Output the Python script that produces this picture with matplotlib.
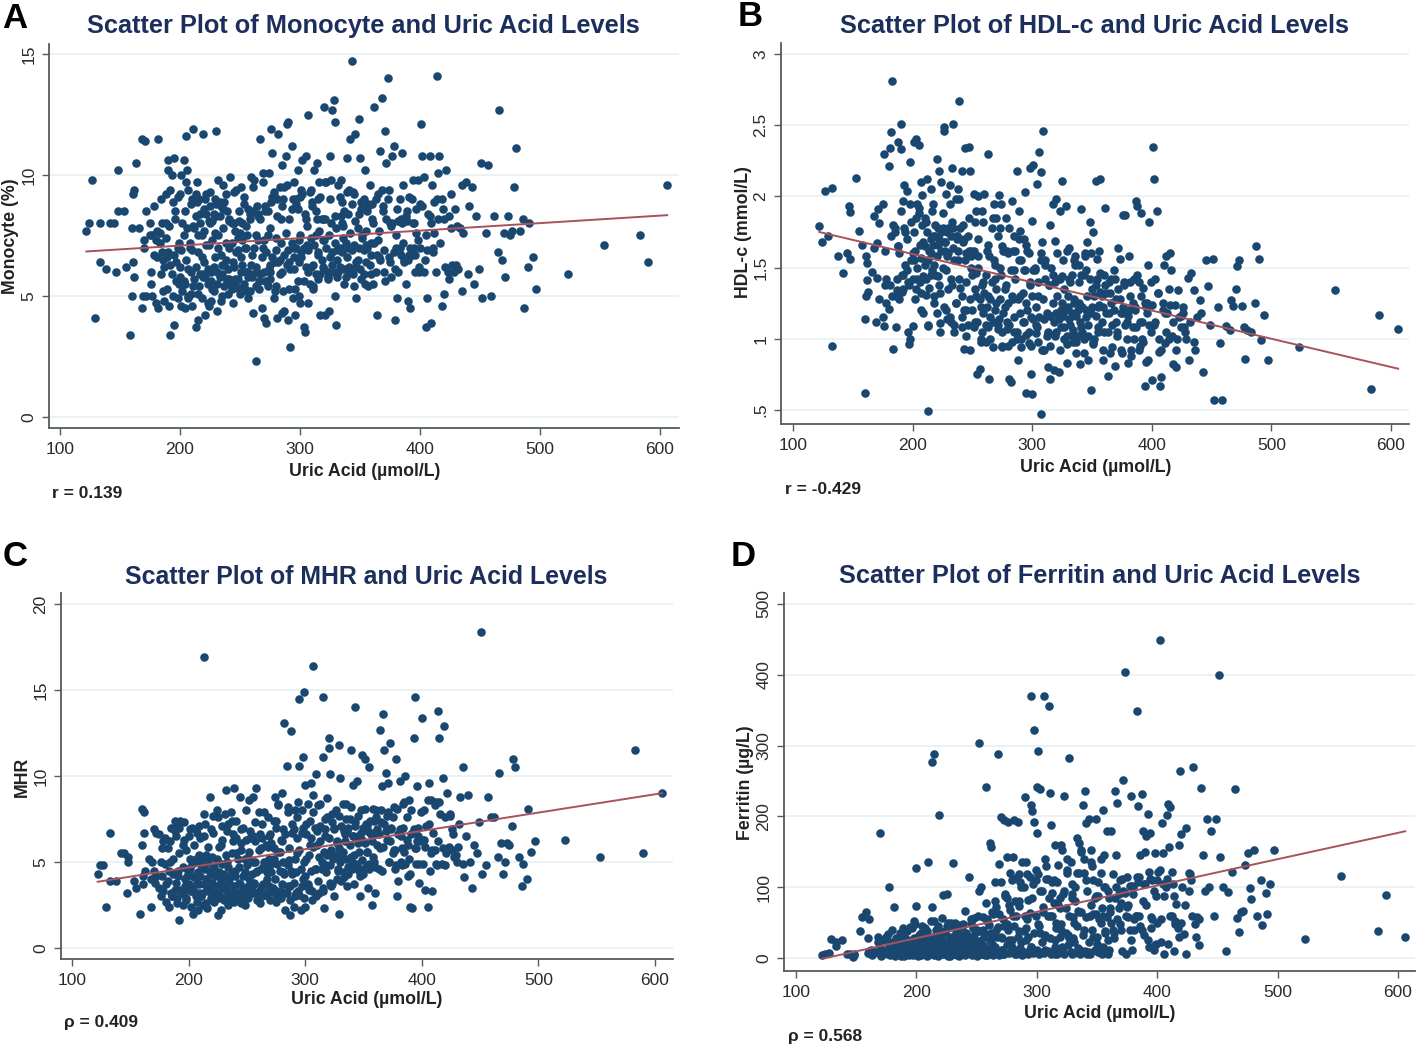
import matplotlib
matplotlib.use("Agg")
from matplotlib import pyplot as plt

plt.rcParams['font.family'] = ['Liberation Sans', 'DejaVu Sans']

# values, same participants (x) in all four panels
uric_acid = [
    122,124,127,129,133,133,138,142,145,147,
    148,148,153,155,158,160,160,161,161,162,
    162,163,166,168,168,169,170,170,171,172,
    172,175,175,176,176,177,177,178,178,180,
    180,181,182,182,183,184,185,186,187,188,
    188,189,190,190,191,192,192,193,194,195,
    195,196,197,198,198,199,200,200,201,202,
    203,204,204,205,206,207,207,208,209,210,
    210,211,212,213,213,214,215,215,216,217,
    218,218,219,220,220,221,222,222,223,224,
    224,225,226,226,227,228,228,229,230,230,
    231,232,232,233,234,234,235,236,236,237,
    238,238,239,240,241,241,242,243,244,245,
    245,246,247,248,248,249,250,251,252,252,
    253,254,255,255,256,257,258,258,259,260,
    261,262,263,263,264,265,266,267,268,269,
    270,270,271,272,273,274,275,275,276,277,
    278,279,280,280,281,282,283,284,285,285,
    286,287,288,289,290,290,291,292,293,294,
    295,295,296,297,298,298,299,300,300,301,
    302,303,304,305,306,307,307,308,309,310,
    311,312,313,314,315,315,316,317,318,319,
    320,320,321,322,323,324,325,326,327,328,
    329,329,330,331,332,333,334,335,336,337,
    338,339,340,341,342,343,344,345,346,347,
    348,349,350,351,352,353,354,355,356,357,
    358,359,360,361,362,363,364,365,366,367,
    368,369,370,371,372,373,374,375,376,377,
    378,379,380,381,382,383,384,385,386,387,
    388,389,390,391,392,393,394,395,396,397,
    398,399,400,401,402,403,404,405,406,407,
    408,409,410,411,412,413,414,415,416,418,
    419,420,422,424,426,428,430,431,433,435,
    436,438,440,441,443,445,447,449,451,452,
    455,457,459,462,465,466,468,470,471,473,
    475,477,478,480,483,486,487,490,491,494,
    497,523,553,583,590,606,
    # dense core
    181,183,185,187,189,191,193,195,197,199,
    200,201,202,203,204,205,206,207,208,209,
    210,211,212,213,214,215,216,217,218,219,
    220,221,222,223,224,225,226,227,228,229,
    230,231,232,233,234,235,236,237,238,239,
    240,241,242,243,244,245,246,247,248,249,
    250,251,252,253,254,255,256,257,258,259,
    260,261,262,263,264,265,266,267,268,269,
    270,271,272,273,274,275,276,277,278,279,
    280,281,282,283,284,285,286,287,288,289,
    290,291,292,293,294,295,296,297,298,299,
    300,301,302,303,304,305,306,307,308,309,
    310,311,312,313,314,315,316,317,318,319,
    320,321,322,323,324,325,326,327,328,329,
    330,331,332,333,334,335,336,337,338,339,
    340,341,342,343,344,345,346,347,348,349,
    350,351,352,353,354,355,356,357,358,359,
    360,362,364,366,368,370,372,374,376,378,
    380,382,384,386,388,390,392,394,396,398,
    400,403,406,409,412,415,418,421,424,427,
    # rest of the cloud
    184,186,188,190,192,194,196,198,201,203,
    205,207,209,211,213,215,217,219,221,223,
    225,227,229,231,233,235,237,239,241,243,
    245,247,249,251,253,255,257,259,261,263,
    265,267,269,271,273,275,277,279,281,283,
    285,287,289,291,293,295,297,299,301,303,
    305,307,309,311,313,315,317,319,321,323,
    325,327,329,331,333,335,337,339,341,343,
    345,347,349,351,353,355,357,359,361,363,
    365,367,369,371,373,375,377,379,381,383,
    385,387,389,391,393,395,397,399,402,405,
    408,411,414,417,420,423,426,429,432,435,
]

monocyte = [
    7.7,8.0,9.8,4.1,6.4,8.0,6.1,8.0,8.0,6.0,
    10.2,8.5,8.5,6.2,3.4,5.0,7.8,6.4,9.2,9.4,
    5.8,10.5,7.8,11.5,4.5,5.0,7.0,7.3,11.4,8.5,
    5.0,7.5,8.0,6.0,5.5,5.0,7.5,8.7,6.7,7.3,
    4.7,6.6,11.5,4.5,7.6,5.9,8.0,6.5,4.8,9.2,
    7.4,5.3,10.6,10.2,4.6,3.4,6.3,10.0,8.9,3.8,
    10.7,8.5,5.6,7.0,9.1,5.5,9.2,6.2,4.6,8.0,
    10.6,4.5,8.5,11.6,10.2,5.0,9.4,7.0,6.0,9.0,
    4.6,11.9,7.8,3.7,8.3,9.7,4.0,6.8,9.0,5.9,
    4.9,7.5,11.7,8.6,6.4,4.2,9.2,7.1,5.5,8.1,
    4.6,9.3,6.0,4.8,7.3,8.4,5.2,6.6,11.8,8.8,
    4.4,7.0,9.8,5.8,8.7,4.8,6.3,9.6,7.8,5.4,
    9.2,6.5,8.5,5.1,7.0,5.7,9.9,8.0,4.7,6.2,
    5.4,7.7,9.4,5.7,6.9,8.1,5.1,9.5,6.3,7.3,
    9.1,5.3,7.0,7.9,6.0,4.9,8.2,5.2,9.9,6.7,
    4.3,9.8,2.3,7.5,6.0,8.3,5.6,11.5,4.5,10.1,
    7.3,4.1,8.7,3.9,5.4,10.1,6.3,7.8,11.9,10.9,
    4.9,9.1,5.4,7.4,4.1,11.7,6.5,8.2,4.3,10.4,
    5.2,9.5,10.8,12.1,12.2,4.0,6.4,2.9,11.2,4.9,
    7.0,9.7,4.2,8.8,5.6,10.2,7.3,9.1,4.7,6.8,
    10.6,3.7,3.5,10.8,7.1,12.5,4.7,9.3,6.2,8.9,
    5.3,10.2,7.5,10.5,6.8,5.7,9.7,4.2,8.2,6.2,
    12.8,7.3,4.2,9.7,5.8,4.4,10.8,9.8,12.7,13.1,
    12.2,5.0,3.8,6.9,9.6,6.2,9.8,8.9,7.9,8.5,
    5.8,10.7,7.0,9.4,11.5,14.7,9.3,5.4,11.7,4.9,
    6.5,12.3,10.7,8.9,7.5,5.9,10.2,7.1,8.5,5.4,
    9.6,6.7,8.2,5.5,12.8,9.0,4.2,7.3,6.6,11.0,
    13.2,8.7,6.0,11.8,10.5,14.0,9.4,8.0,5.8,10.8,
    11.2,4.0,7.0,4.9,6.0,9.0,8.2,10.9,9.6,6.5,
    5.5,8.5,4.8,9.1,4.5,6.7,9.8,8.0,6.0,7.6,
    9.8,6.0,8.8,12.1,10.8,9.9,6.5,3.7,4.9,8.4,
    10.8,3.9,9.6,7.0,8.9,6.0,14.1,10.1,10.8,4.6,
    8.6,5.1,10.2,8.3,9.2,6.0,6.3,7.9,7.8,5.2,
    7.6,9.7,5.9,8.7,9.5,5.5,8.3,6.1,10.5,4.9,
    7.6,10.4,5.0,8.3,6.8,12.7,6.5,7.6,5.8,8.3,
    7.5,7.7,9.5,11.1,7.7,8.2,4.5,6.2,8.0,6.6,
    5.3,5.9,7.1,7.5,6.4,9.6,
    7.7,7.2,6.8,6.2,6.6,7.9,5.9,6.7,6.4,7.2,
    5.8,6.9,5.2,7.5,5.5,6.5,7.8,6.1,7.2,5.1,
    6.9,7.9,5.7,6.2,8.9,7.5,5.4,8.0,6.6,5.9,
    7.7,5.8,8.4,6.1,7.1,8.7,5.6,8.1,6.2,7.6,
    8.3,6.0,7.5,8.9,6.7,5.9,8.6,6.3,7.2,5.6,
    6.1,8.2,5.5,7.2,6.4,8.0,5.7,6.8,7.4,5.3,
    7.6,6.6,8.0,5.5,7.0,6.0,7.5,5.8,8.4,6.3,
    5.8,8.5,7.0,6.2,8.7,7.3,5.3,8.2,6.6,7.0,
    6.0,8.5,6.8,7.5,6.1,5.7,8.9,6.6,9.3,6.4,
    6.9,8.3,6.4,9.5,7.2,6.0,9.0,6.7,7.6,6.3,
    6.9,8.2,6.1,7.2,9.0,6.6,5.3,7.0,8.6,6.4,
    7.5,6.6,9.2,7.0,8.4,6.2,7.9,6.9,5.5,7.4,
    8.7,6.3,7.1,5.9,8.2,6.7,7.7,9.1,6.5,7.3,
    6.1,8.2,7.0,5.7,7.5,6.6,8.0,6.8,6.0,7.2,
    7.8,6.5,6.0,7.0,8.3,6.8,7.4,6.1,7.2,6.6,
    8.4,6.2,7.6,6.9,5.9,7.1,8.1,6.4,7.8,7.0,
    6.1,8.6,7.4,6.9,5.5,7.7,7.0,8.8,6.3,7.2,
    8.8,7.2,6.7,7.7,9.4,6.9,8.2,6.6,7.9,6.8,
    7.5,8.1,6.7,7.2,8.3,6.5,7.0,8.0,6.7,7.3,
    7.0,6.0,6.9,8.0,7.6,8.2,9.0,6.2,5.7,6.3,
    9.0,5.2,8.0,6.8,9.4,5.0,8.2,4.9,10.0,5.6,
    9.7,4.9,8.8,5.4,9.2,5.1,8.4,5.8,9.0,4.7,
    8.0,5.3,9.0,5.5,8.3,5.0,8.9,5.7,8.1,5.3,
    9.3,5.4,8.5,6.0,8.8,5.2,8.6,5.9,9.5,5.4,
    8.4,5.9,9.7,5.6,8.5,6.0,9.1,5.2,9.0,5.9,
    8.7,4.4,9.6,5.3,8.6,6.1,9.0,5.0,9.4,5.6,
    8.2,6.0,9.4,5.4,8.5,9.0,5.9,8.2,9.7,6.0,
    9.0,6.3,8.3,5.8,9.1,8.0,5.5,9.3,6.0,8.8,
    9.2,6.2,8.4,5.7,9.0,6.4,8.7,5.9,8.0,6.0,
    9.2,6.5,8.5,5.6,9.0,6.4,8.0,6.1,8.6,7.0,
    8.0,6.4,8.1,6.7,9.0,7.0,8.6,6.2,8.7,7.5,
    8.3,6.8,9.0,7.2,8.2,6.0,7.8,8.6,6.1,9.6,
]

hdl = [
    1.79,1.68,2.04,1.72,2.06,0.95,1.58,1.46,1.60,1.93,
    1.89,1.56,2.13,1.76,1.66,0.62,1.14,1.30,1.58,1.53,
    1.41,1.33,1.47,1.86,1.64,1.12,1.43,1.67,1.91,1.81,
    1.28,1.95,1.15,2.30,1.09,1.38,1.62,1.25,1.42,2.21,
    1.21,2.34,2.45,1.72,2.81,0.93,1.78,1.08,1.34,2.38,
    1.65,1.28,2.51,2.33,1.45,1.97,1.35,2.08,1.52,2.04,
    1.70,1.40,0.96,2.24,1.00,1.82,1.09,1.60,2.38,1.28,
    2.40,1.95,1.42,2.36,1.66,2.10,1.32,2.01,1.18,1.52,
    1.85,1.31,2.12,0.49,1.09,1.62,2.05,1.45,1.90,1.72,
    1.30,1.52,1.80,2.26,1.18,1.66,2.18,1.38,1.11,1.75,
    2.10,1.50,2.49,2.46,1.68,2.02,1.20,1.58,1.35,1.78,
    2.08,1.42,1.12,2.20,2.51,1.64,1.05,1.98,1.25,1.72,
    2.05,1.55,2.67,1.36,2.18,1.08,1.80,0.93,2.34,1.60,
    1.20,1.72,2.35,2.18,0.92,1.58,1.45,2.02,1.12,1.82,
    1.30,0.75,2.00,1.50,0.79,1.22,1.90,1.05,1.40,2.02,
    0.98,1.62,2.30,1.30,0.72,1.15,1.78,0.94,1.95,1.42,
    1.85,1.25,1.07,2.01,1.50,1.95,0.94,1.65,1.18,1.35,
    1.85,1.12,1.60,0.95,0.72,0.70,1.97,1.28,1.05,1.48,
    1.62,2.18,0.85,1.90,1.30,1.76,1.00,1.12,1.48,2.03,
    0.62,1.66,1.20,0.97,2.20,1.38,0.75,0.61,1.83,2.22,
    1.50,1.10,2.09,1.30,2.31,0.47,2.17,1.68,2.46,0.92,
    1.55,1.02,0.80,1.38,0.72,1.80,1.16,1.95,0.78,1.69,
    1.98,1.05,1.42,0.77,1.90,1.20,2.11,1.55,1.00,1.93,
    0.83,1.62,1.30,1.64,1.10,1.45,0.98,1.25,1.58,0.90,
    1.20,1.52,0.82,1.91,1.05,1.45,1.60,1.15,1.68,0.85,
    1.82,0.64,1.35,1.75,1.00,2.11,1.56,1.22,1.62,2.12,
    1.30,0.85,1.45,1.92,1.18,0.74,1.40,0.90,1.25,1.10,
    1.48,0.81,1.28,1.05,1.64,1.56,0.92,1.18,1.87,1.38,
    1.87,1.12,0.83,1.58,1.40,0.88,1.25,1.00,1.20,1.97,
    1.93,1.40,0.95,1.88,1.12,1.36,0.67,0.84,1.25,1.52,
    1.82,1.05,0.71,2.35,2.12,1.42,1.90,1.32,0.91,0.67,
    0.73,1.25,1.52,0.97,1.58,1.18,1.00,1.60,1.48,0.82,
    1.24,0.80,1.34,1.08,1.18,1.05,1.43,0.85,1.46,1.34,
    0.92,1.15,1.27,1.18,0.77,1.55,1.37,1.10,1.56,0.57,
    1.22,0.97,0.57,1.09,1.06,1.27,1.23,1.35,1.51,1.55,
    1.23,1.08,0.86,1.06,1.05,1.25,1.65,1.56,0.99,1.17,
    0.85,0.94,1.34,0.65,1.17,1.07,
    1.38,1.30,1.75,1.42,1.60,1.33,1.78,1.48,1.38,1.55,
    1.42,1.75,1.62,1.35,1.50,1.88,1.40,1.57,1.80,1.44,
    1.65,1.42,1.75,1.55,1.36,1.70,1.48,1.66,1.25,1.72,
    1.58,1.44,1.70,1.32,1.62,1.78,1.22,1.68,1.48,1.75,
    1.60,1.15,1.72,1.38,1.78,1.55,1.25,1.70,1.62,1.42,
    1.78,1.30,1.68,1.20,1.55,1.40,1.10,1.62,1.28,1.50,
    1.20,1.62,1.35,1.46,1.12,1.58,1.28,1.00,1.38,1.18,
    1.32,1.45,1.22,1.08,1.58,1.28,1.40,1.12,1.55,1.20,
    1.35,1.72,1.14,1.28,1.45,1.05,1.62,1.22,1.38,1.62,
    1.25,1.10,1.48,1.30,1.62,1.15,1.42,1.00,1.28,1.70,
    1.18,1.55,1.32,1.12,1.48,1.25,1.62,1.05,1.40,1.15,
    1.30,1.14,1.48,1.22,1.08,1.40,1.15,1.55,0.92,1.28,
    1.14,1.42,1.18,1.05,1.38,1.16,1.50,1.25,1.12,1.40,
    1.18,1.30,1.14,1.42,1.08,1.25,1.16,1.35,1.20,1.02,
    1.22,1.14,1.40,1.18,1.06,1.28,1.52,1.16,1.02,1.25,
    1.12,1.45,1.22,1.00,1.58,1.20,1.30,1.10,1.42,1.18,
    1.22,0.98,1.30,1.16,1.42,1.08,1.24,1.33,1.12,1.22,
    1.05,1.32,1.18,1.42,1.20,1.12,1.35,1.18,1.22,1.10,
    1.16,1.30,1.08,1.22,1.45,1.12,1.00,1.25,1.18,1.10,
    1.24,1.12,1.00,1.20,1.05,1.24,1.12,1.00,1.16,1.08,
    1.80,1.30,1.65,1.90,1.45,1.75,1.05,1.95,1.55,1.85,
    1.92,1.20,1.68,1.82,1.10,1.60,1.95,1.45,1.78,1.05,
    1.88,1.62,1.14,1.95,1.82,1.10,1.72,1.98,1.15,1.70,
    1.02,1.85,1.62,1.08,1.90,1.70,0.98,1.82,1.10,1.66,
    1.00,1.85,1.52,1.10,1.78,0.95,1.62,1.07,1.78,0.98,
    1.72,1.05,1.55,0.94,1.70,1.03,1.60,0.95,1.48,1.04,
    0.98,1.60,0.92,1.52,1.04,0.95,1.45,1.02,1.60,0.92,
    1.44,1.08,0.96,1.42,1.03,1.55,0.98,1.40,1.08,0.90,
    1.48,1.02,1.60,0.96,1.38,1.05,1.46,0.92,1.38,1.05,
    1.32,0.94,1.42,1.02,1.28,0.90,1.40,1.00,1.20,0.92,
    1.42,1.08,0.92,1.30,0.98,1.22,0.85,1.40,1.10,1.32,
    0.92,1.18,1.35,1.02,0.92,1.15,1.22,1.00,1.12,0.98,
]

mhr = [
    4.3,4.8,4.8,2.4,6.7,3.9,3.9,5.5,5.5,3.2,
    5.0,5.3,3.9,3.5,2.0,8.1,6.0,4.2,3.7,7.9,
    6.7,4.5,5.2,2.4,4.0,5.0,6.9,4.5,3.8,6.7,
    4.2,3.5,6.6,5.0,3.0,4.2,5.8,6.2,3.3,4.9,
    6.4,2.7,5.8,3.9,2.4,5.0,7.0,3.0,4.3,7.4,
    3.4,6.5,2.6,7.2,4.5,1.6,5.5,7.4,3.2,6.0,
    2.5,7.3,4.0,5.7,2.9,4.6,6.5,3.4,5.2,2.4,
    7.0,2.0,4.2,5.0,3.0,6.7,3.8,2.2,5.4,6.4,
    3.2,4.8,2.5,16.9,7.8,7.2,4.0,5.4,2.3,3.5,
    8.8,4.4,6.9,3.0,5.3,7.7,2.7,4.7,3.6,8.0,
    5.1,1.9,5.9,3.3,4.1,6.0,2.2,7.1,4.3,2.8,
    7.8,9.2,3.6,5.0,2.5,7.2,4.0,7.9,3.0,5.5,
    6.6,3.3,9.3,4.5,2.9,7.4,5.2,3.8,8.8,2.6,
    5.7,3.5,7.0,2.5,4.4,6.3,3.0,5.3,8.6,4.0,
    6.8,3.4,8.8,5.0,3.8,6.2,9.3,4.4,3.2,7.9,
    2.6,5.8,3.6,7.2,4.7,3.1,6.0,4.0,7.6,5.2,
    2.8,6.6,4.4,3.4,5.8,8.8,2.7,7.4,4.9,8.4,
    5.6,3.3,9.0,6.2,4.4,13.1,2.2,10.6,3.6,7.9,
    5.1,1.9,12.6,4.3,2.4,6.9,8.0,3.2,5.5,8.5,
    14.5,10.6,2.2,6.7,11.1,4.0,14.9,9.5,2.4,5.2,
    8.4,3.5,6.0,9.6,2.8,16.4,8.9,4.6,10.1,6.8,
    8.3,3.2,6.2,5.0,14.6,11.1,2.3,7.5,4.4,8.7,
    12.2,11.6,10.1,3.6,7.8,5.4,3.0,8.0,6.1,4.6,
    11.8,2.0,9.9,5.2,8.4,4.1,6.6,8.4,3.6,7.0,
    7.5,11.5,5.0,9.5,3.7,14.0,9.7,6.5,4.5,3.0,
    8.0,11.2,4.3,11.0,7.2,5.6,3.5,10.5,6.7,2.5,
    8.1,5.0,3.2,7.6,6.0,4.6,12.7,8.0,9.4,13.6,
    11.5,10.2,7.7,9.6,5.0,11.9,6.9,5.5,8.2,4.6,
    11.0,3.0,3.9,9.7,6.5,4.8,8.4,5.6,10.0,7.6,
    4.2,8.6,2.4,6.6,2.3,12.2,14.6,5.8,9.4,7.0,
    3.8,6.2,13.4,4.9,8.0,3.4,7.1,2.4,9.6,4.5,
    8.6,3.3,6.7,5.7,8.5,4.8,13.8,12.2,7.8,9.9,
    12.9,4.8,9.0,7.7,5.7,5.3,5.0,5.9,8.8,10.5,
    4.1,6.5,8.9,5.0,3.5,6.0,5.5,7.3,18.4,4.3,
    4.8,8.8,7.6,7.6,5.3,10.2,6.1,4.3,5.0,6.1,
    6.0,7.1,11.0,10.5,5.3,3.6,4.9,4.0,8.1,5.6,
    6.2,6.3,5.3,11.5,5.5,9.0,
    3.7,4.5,3.2,5.2,3.8,4.2,3.4,4.7,3.6,4.2,
    3.7,4.6,3.3,4.9,3.5,4.1,5.2,3.2,4.4,3.7,
    4.2,3.0,5.1,3.7,4.6,3.3,4.0,5.0,3.5,4.3,
    3.8,4.7,3.2,4.2,5.2,3.6,4.4,2.9,3.9,4.9,
    3.5,4.2,5.4,3.3,4.7,3.8,2.9,4.4,6.2,3.6,
    4.2,5.5,3.2,4.7,3.7,6.1,2.9,4.2,5.2,3.4,
    4.8,3.6,5.6,3.2,4.3,6.5,3.7,5.0,3.2,4.5,
    5.7,3.4,4.6,6.4,3.7,5.0,3.2,4.4,5.9,3.6,
    4.8,6.1,3.5,5.2,4.0,7.0,3.3,5.6,4.5,6.3,
    3.7,5.0,4.3,6.6,3.2,4.8,5.8,3.6,4.5,7.2,
    3.8,5.2,4.4,6.4,3.3,5.7,4.6,3.6,7.0,5.0,
    4.2,6.6,3.7,5.4,7.4,4.5,3.3,5.9,7.0,4.6,
    6.0,3.9,5.3,7.1,4.6,3.5,5.6,6.9,4.8,5.4,
    6.4,4.8,5.7,3.7,5.2,7.0,5.4,6.2,4.5,5.8,
    5.0,7.1,5.6,4.4,6.2,5.2,6.8,4.7,6.0,5.3,
    4.6,6.5,5.4,7.3,4.9,6.1,5.6,4.6,6.7,5.1,
    7.0,6.1,4.7,5.6,6.8,4.9,7.4,6.2,5.3,6.7,
    4.7,6.9,5.8,4.5,7.2,6.3,5.0,7.0,5.7,4.8,
    6.6,5.0,7.0,4.9,6.0,4.3,6.7,5.8,6.2,4.9,
    6.3,5.9,7.2,5.7,4.9,8.5,5.8,5.5,7.8,6.6,
    6.2,3.0,6.8,2.9,7.0,3.2,6.3,2.8,6.9,3.3,
    6.0,2.7,7.1,3.0,6.5,2.6,5.9,2.9,6.7,3.1,
    7.6,3.0,6.3,2.9,6.8,3.1,7.4,2.7,6.4,3.0,
    6.9,3.1,8.0,2.9,6.4,3.2,7.3,2.8,6.6,3.0,
    7.9,3.1,6.5,3.3,7.4,3.0,8.3,2.9,6.9,3.2,
    8.2,2.8,6.7,3.0,7.6,3.1,8.0,2.9,7.2,3.4,
    6.4,7.9,3.0,7.0,8.4,3.3,6.5,7.6,3.8,7.3,
    6.9,4.0,7.7,3.9,6.8,7.5,4.3,8.2,6.5,7.1,
    7.7,4.2,6.3,8.1,7.1,4.6,6.5,7.4,8.0,6.6,
    7.3,5.9,6.8,7.9,6.2,7.6,5.7,8.1,6.9,5.8,
    8.5,6.3,5.2,8.0,6.9,4.9,6.5,7.9,6.3,8.6,
    5.5,8.3,6.2,4.9,7.6,5.9,6.9,5.4,7.2,4.9,
]

ferritin = [
    4,5,7,27,17,22,25,5,6,2,
    6,4,38,58,65,28,7,55,10,5,
    12,4,8,22,30,7,176,14,3,25,
    6,12,30,5,34,100,15,4,23,9,
    40,72,3,18,28,6,12,35,4,22,
    8,42,14,3,27,6,38,18,4,44,
    11,25,5,52,16,48,127,74,7,32,
    18,4,35,10,24,6,42,14,3,135,
    28,8,52,277,72,17,288,4,40,22,
    10,45,202,5,32,56,89,15,6,38,
    23,90,8,50,16,44,3,30,12,134,
    25,50,6,18,38,4,47,14,32,9,
    44,22,5,67,14,35,7,28,114,11,
    55,4,30,18,56,7,40,12,303,95,
    24,100,6,58,36,14,242,78,4,46,
    163,157,20,65,4,107,40,10,288,133,
    199,107,28,6,195,88,142,48,192,75,
    120,15,142,60,195,5,113,192,38,80,
    108,22,135,7,228,60,136,118,30,64,
    370,216,208,12,322,192,110,242,176,292,
    45,238,95,8,370,140,30,112,60,356,
    233,188,108,78,160,25,50,5,132,85,
    160,40,152,10,229,70,120,32,283,135,
    90,6,58,22,100,170,66,163,12,152,
    216,120,236,190,5,196,60,152,130,30,
    85,196,20,108,55,140,5,209,145,38,
    180,95,12,65,180,118,35,236,145,219,
    90,48,78,112,252,404,6,115,58,102,
    229,12,100,40,60,349,214,115,146,232,
    180,33,150,172,203,15,176,42,110,12,
    148,88,50,122,449,22,190,148,5,100,
    202,218,157,213,60,105,10,48,76,160,
    264,175,34,183,95,110,270,48,58,18,
    240,146,95,196,100,180,60,196,400,142,
    100,10,93,121,238,56,37,65,67,132,
    148,99,84,152,60,110,46,92,62,105,
    153,27,116,38,89,29,
    8,5,15,3,10,20,6,12,4,16,
    8,3,14,22,6,11,30,5,17,9,
    4,20,7,13,26,5,10,33,3,18,
    9,24,5,14,36,7,3,19,28,11,
    5,16,42,8,21,3,12,27,6,18,
    4,34,9,22,13,5,28,42,7,16,
    3,24,10,38,6,18,30,4,14,52,
    8,25,36,5,62,15,72,9,44,4,
    30,12,55,5,90,18,40,7,68,25,
    10,45,80,6,30,73,14,100,4,38,
    9,25,55,5,115,16,85,7,35,125,
    12,48,5,95,22,65,7,32,130,10,
    85,28,5,60,110,15,42,7,75,30,
    48,12,90,6,35,125,18,60,8,105,
    28,7,80,45,14,120,6,65,32,140,
    10,58,95,22,5,75,40,110,12,62,
    30,88,8,50,70,15,100,35,58,6,
    85,50,28,100,70,40,95,60,75,25,
    90,60,108,45,80,105,25,112,55,18,
    110,55,88,20,122,52,30,100,6,118,
    25,30,7,35,15,5,42,28,12,20,
    45,8,38,15,30,52,6,40,25,12,
    45,18,50,7,35,22,8,48,30,12,
    50,6,35,60,18,40,5,55,25,10,
    80,30,62,12,45,85,25,110,10,60,
    118,5,100,42,82,16,105,60,118,35,
    72,12,112,60,92,5,108,70,15,95,
    140,28,85,50,120,65,150,40,110,8,
    135,62,88,8,120,60,100,25,70,40,
    85,55,110,10,92,72,40,102,55,115,
    60,40,105,75,122,58,95,20,125,105,
    112,60,88,42,50,75,120,60,30,55,
]

# fitted lines, end points
fit_x = [122, 606]
fit_mono = [6.84, 8.34]
fit_hdl = [1.75, 0.79]
fit_mhr = [3.85, 9.0]
fit_ferr = [-1, 179]

x_ticks = [100, 200, 300, 400, 500, 600]

W, H = 1418, 1047
NAVY = '#1a476f'
TITLE = '#1c2f5c'
LINE = '#a8525c'
GRID = '#eaf2f3'
AXIS = '#555b5e'
TEXT = '#2b2b2b'

fig = plt.figure(figsize=(W/100, H/100), dpi=100)


def put(x, y, s, **kw):
    # text placed by picture pixels
    fig.text(x/W, 1 - y/H, s, ha=kw.pop('ha', 'center'), va='center', **kw)


def panel(box, x_px, y_px, yvals, ytick_vals, ytick_labels, fit_y):
    left, right, top, bottom = box
    ax = fig.add_axes([left/W, 1 - bottom/H, (right-left)/W, (bottom-top)/H])
    # limits from where the ticks sit in the picture
    sx = (x_px[1] - x_px[0]) / 500.0
    ax.set_xlim(100 + (left - x_px[0])/sx, 100 + (right - x_px[0])/sx)
    span = ytick_vals[-1] - ytick_vals[0]
    sy = (y_px[0] - y_px[1]) / span
    ax.set_ylim(ytick_vals[0] - (bottom - y_px[0])/sy, ytick_vals[0] + (y_px[0] - top)/sy)

    ax.scatter(uric_acid, yvals, s=38, color=NAVY, linewidths=0, zorder=3)
    ax.plot(fit_x, fit_y, color=LINE, lw=1.4, zorder=4)

    ax.set_xticks(x_ticks)
    ax.set_yticks(ytick_vals)
    ax.set_yticklabels(ytick_labels, rotation=90, va='center')
    ax.tick_params(axis='both', length=5, width=1, color=AXIS, labelcolor=TEXT, labelsize=12.5)
    ax.tick_params(axis='x', pad=5)
    ax.tick_params(axis='y', pad=4)
    ax.grid(axis='y', color=GRID, lw=1.4, zorder=0)
    ax.set_axisbelow(True)
    for side in ['top', 'right']:
        ax.spines[side].set_visible(False)
    for side in ['left', 'bottom']:
        ax.spines[side].set_color(AXIS)
        ax.spines[side].set_linewidth(1.3)
    return ax


panel((49, 679, 44, 428), (60, 660), (417, 54), monocyte, [0, 5, 10, 15], ['0', '5', '10', '15'], fit_mono)
panel((781, 1409, 43, 424), (793, 1391), (410, 54), hdl,
      [.5, 1, 1.5, 2, 2.5, 3], ['.5', '1', '1.5', '2', '2.5', '3'], fit_hdl)
panel((61, 673, 593, 959), (72, 655), (948, 604), mhr, [0, 5, 10, 15, 20], ['0', '5', '10', '15', '20'], fit_mhr)
panel((784, 1415, 593, 971), (796, 1398), (958, 604), ferritin,
      [0, 100, 200, 300, 400, 500], ['0', '100', '200', '300', '400', '500'], fit_ferr)

# titles
title_kw = dict(color=TITLE, fontsize=18.3, fontweight='bold')
put(363, 26, 'Scatter Plot of Monocyte and Uric Acid Levels', **title_kw)
put(1095, 26, 'Scatter Plot of HDL-c and Uric Acid Levels', **title_kw)
put(366, 577, 'Scatter Plot of MHR and Uric Acid Levels', color=TITLE, fontsize=17.9, fontweight='bold')
put(1100, 576, 'Scatter Plot of Ferritin and Uric Acid Levels', **title_kw)

# axis labels
lab_kw = dict(color='#222222', fontsize=12.8, fontweight='bold')
put(365, 471, 'Uric Acid (µmol/L)', **lab_kw)
put(1096, 467, 'Uric Acid (µmol/L)', **lab_kw)
put(367, 1000, 'Uric Acid (µmol/L)', **lab_kw)
put(1100, 1013, 'Uric Acid (µmol/L)', **lab_kw)
put(11, 236, 'Monocyte (%)', rotation=90, **lab_kw)
put(743, 232, 'HDL-c (mmol/L)', rotation=90, **lab_kw)
put(22, 777, 'MHR', rotation=90, **lab_kw)
put(745, 783, 'Ferritin (µg/L)', rotation=90, **lab_kw)

# correlation notes
note_kw = dict(color='#222222', fontsize=12.5, fontweight='bold', ha='left')
put(52, 494, 'r = 0.139', **note_kw)
put(785, 489, 'r = -0.429', **note_kw)
put(64, 1022, 'ρ = 0.409', **note_kw)
put(788, 1036, 'ρ = 0.568', **note_kw)

# panel letters
let_kw = dict(color='black', fontsize=25, fontweight='bold')
put(15, 19, 'A', **let_kw)
put(750, 16, 'B', **let_kw)
put(15, 556, 'C', **let_kw)
put(743, 556, 'D', **let_kw)

fig.savefig('out.png', dpi=100, facecolor='white')
